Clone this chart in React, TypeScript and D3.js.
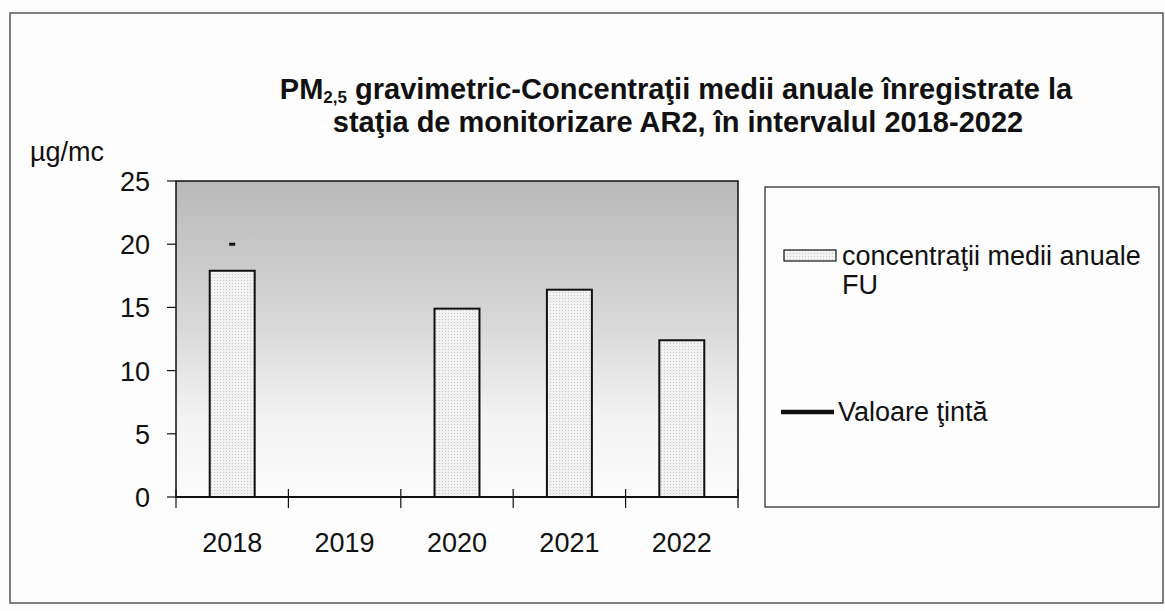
import React from "react";
import * as d3 from "d3";

const years = ["2018", "2019", "2020", "2021", "2022"];
const concentrations: (number | null)[] = [17.9, null, 14.9, 16.4, 12.4];
const targetValues: (number | null)[] = [20, null, null, null, null];
const yTicks = [0, 5, 10, 15, 20, 25];
const seriesNames = ["concentraţii medii anuale", "FU", "Valoare ţintă"];

const W = 1165;
const H = 611;
const plot = { left: 176, right: 738, top: 181, bottom: 497 };
const FONT = "'Liberation Sans', Arial, sans-serif";

export default function App() {
  const x = d3.scaleBand<string>().domain(years).range([plot.left, plot.right]).paddingInner(0).paddingOuter(0);
  const y = d3.scaleLinear().domain([0, 25]).range([plot.bottom, plot.top]);
  const barW = x.bandwidth() * 0.4;

  return (
    <svg width={W} height={H} style={{ position: "absolute", left: 0, top: 0, background: "#fdfdfd" }}>
      <defs>
        <linearGradient id="bg" x1="0" y1="0" x2="0" y2="1">
          <stop offset="0" stopColor="#b9b9b9" />
          <stop offset="0.45" stopColor="#d8d8d8" />
          <stop offset="0.75" stopColor="#f3f3f3" />
          <stop offset="1" stopColor="#fbfbfb" />
        </linearGradient>
        <pattern id="dots" width="3" height="3" patternUnits="userSpaceOnUse">
          <rect width="3" height="3" fill="#f2f2f2" />
          <rect x="1" y="1" width="1" height="1" fill="#c8c8c8" />
        </pattern>
      </defs>
      <rect x={10} y={13} width={1153} height={590} fill="none" stroke="#555" strokeWidth={1.5} />

      <text x={676} y={99} textAnchor="middle" fontFamily={FONT} fontWeight="bold" fontSize={29} fill="#111">
        PM<tspan fontSize={17} dy={4}>2,5</tspan><tspan dy={-4}> gravimetric-Concentraţii medii anuale înregistrate la</tspan>
      </text>
      <text x={678} y={132} textAnchor="middle" fontFamily={FONT} fontWeight="bold" fontSize={29} fill="#111">
        staţia de monitorizare AR2, în intervalul 2018-2022
      </text>
      <text x={30} y={161} fontFamily={FONT} fontSize={27} fill="#111">µg/mc</text>

      <rect x={plot.left} y={plot.top} width={plot.right - plot.left} height={plot.bottom - plot.top} fill="url(#bg)" stroke="none" />

      {years.map((yr, i) => {
        const v = concentrations[i];
        if (v == null) return null;
        const cx = (x(yr) as number) + x.bandwidth() / 2;
        return (
          <rect key={yr} x={cx - barW / 2} y={y(v)} width={barW} height={y(0) - y(v)} fill="url(#dots)" stroke="#111" strokeWidth={2} />
        );
      })}

      {years.map((yr, i) => {
        const v = targetValues[i];
        if (v == null) return null;
        const cx = (x(yr) as number) + x.bandwidth() / 2;
        return <line key={"t" + yr} x1={cx - 3} x2={cx + 3} y1={y(v)} y2={y(v)} stroke="#111" strokeWidth={3} />;
      })}

      <rect x={plot.left} y={plot.top} width={plot.right - plot.left} height={plot.bottom - plot.top} fill="none" stroke="#111" strokeWidth={1.5} />
      <line x1={plot.left} x2={plot.right} y1={plot.bottom} y2={plot.bottom} stroke="#111" strokeWidth={2} />

      {yTicks.map((t) => (
        <g key={t}>
          <line x1={plot.left - 9} x2={plot.left} y1={y(t)} y2={y(t)} stroke="#111" strokeWidth={1.2} />
          <text x={150} y={y(t) + 10} textAnchor="end" fontFamily={FONT} fontSize={27} fill="#111">{t}</text>
        </g>
      ))}

      {d3.range(years.length + 1).map((i) => {
        const xx = plot.left + i * x.bandwidth();
        return <line key={"xt" + i} x1={xx} x2={xx} y1={plot.bottom - 8} y2={plot.bottom + 11} stroke="#111" strokeWidth={1.2} />;
      })}
      {years.map((yr) => (
        <text key={"xl" + yr} x={(x(yr) as number) + x.bandwidth() / 2} y={552} textAnchor="middle" fontFamily={FONT} fontSize={27} fill="#111">{yr}</text>
      ))}

      <rect x={765} y={187} width={394} height={320} fill="#fdfdfd" stroke="#222" strokeWidth={1.2} />
      <rect x={784} y={250} width={52} height={11} fill="url(#dots)" stroke="#111" strokeWidth={1.2} />
      <text x={842} y={265} fontFamily={FONT} fontSize={27} fill="#111">
        <tspan x={842}>{seriesNames[0]}</tspan>
        <tspan x={842} dy={29}>{seriesNames[1]}</tspan>
      </text>
      <line x1={781} x2={834} y1={412} y2={412} stroke="#111" strokeWidth={4.5} />
      <text x={838} y={421} fontFamily={FONT} fontSize={27} fill="#111">{seriesNames[2]}</text>
    </svg>
  );
}
